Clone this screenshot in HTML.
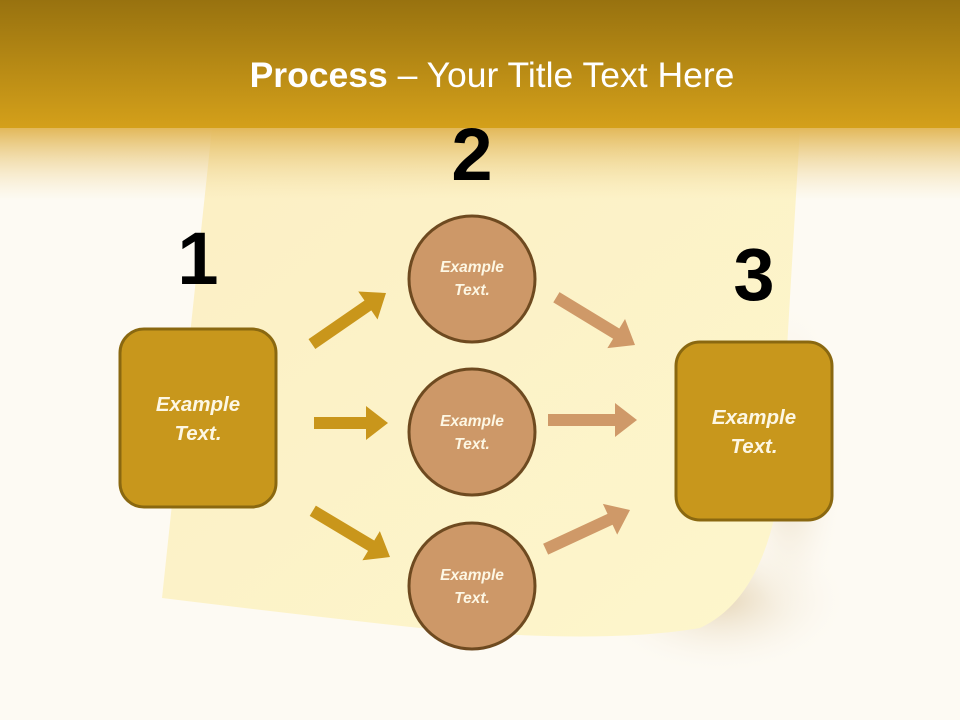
<!DOCTYPE html>
<html><head><meta charset="utf-8"><style>
html,body{margin:0;padding:0;width:960px;height:720px;overflow:hidden;background:#fdfaf3}
</style></head><body>
<svg width="960" height="720" viewBox="0 0 960 720" xmlns="http://www.w3.org/2000/svg">
<defs>
<linearGradient id="ban" x1="0" y1="0" x2="0" y2="1">
<stop offset="0" stop-color="#98720f"/><stop offset="1" stop-color="#d4a01a"/>
</linearGradient>
<linearGradient id="fade" x1="0" y1="0" x2="0" y2="1">
<stop offset="0" stop-color="#e2b85a" stop-opacity="1"/><stop offset="1" stop-color="#f3dfa8" stop-opacity="0"/>
</linearGradient>
<linearGradient id="note" x1="0" y1="0" x2="1" y2="1">
<stop offset="0" stop-color="#fcefc4"/><stop offset="1" stop-color="#fdf6cc"/>
</linearGradient>
<radialGradient id="sh" cx="0.5" cy="0.5" r="0.5">
<stop offset="0" stop-color="#e6d6b8"/><stop offset="1" stop-color="#fdfaf3" stop-opacity="0"/>
</radialGradient>
</defs>
<rect width="960" height="720" fill="#fdfaf3"/>
<ellipse cx="720" cy="600" rx="130" ry="75" fill="url(#sh)"/>
<ellipse cx="790" cy="460" rx="55" ry="160" fill="url(#sh)"/>
<path d="M212,128 L800,128 L778,500 Q760,600 700,628 Q600,645 420,628 Q300,615 162,598 Z" fill="url(#note)"/>
<rect x="0" y="0" width="960" height="128" fill="url(#ban)"/>
<rect x="0" y="128" width="960" height="72" fill="url(#fade)"/>
<text x="492" y="87" text-anchor="middle" font-family="'Liberation Sans',sans-serif" font-size="35.5" fill="#fff"><tspan font-weight="bold">Process</tspan> – Your Title Text Here</text>
<g font-family="'Liberation Sans',sans-serif" font-weight="bold" font-size="74" fill="#000" text-anchor="middle">
<text x="198" y="284">1</text><text x="472" y="180">2</text><text x="754" y="300">3</text>
</g>
<g fill="#c9961b">
<polygon transform="translate(386,293) rotate(-34.6)" points="0,0 -22,-17 -22,-6 -90,-6 -90,6 -22,6 -22,17"/>
<polygon transform="translate(388,423)" points="0,0 -22,-17 -22,-6 -74,-6 -74,6 -22,6 -22,17"/>
<polygon transform="translate(390,557) rotate(30.9)" points="0,0 -22,-17 -22,-6 -90,-6 -90,6 -22,6 -22,17"/>
</g>
<g fill="#cf9968">
<polygon transform="translate(635,345) rotate(31.3)" points="0,0 -22,-17 -22,-6 -92,-6 -92,6 -22,6 -22,17"/>
<polygon transform="translate(637,420)" points="0,0 -22,-17 -22,-6 -89,-6 -89,6 -22,6 -22,17"/>
<polygon transform="translate(630,510) rotate(-24.9)" points="0,0 -22,-17 -22,-6 -93,-6 -93,6 -22,6 -22,17"/>
</g>
<g fill="#c8971c" stroke="#8a6810" stroke-width="3">
<rect x="120" y="329" width="156" height="178" rx="24"/>
<rect x="676" y="342" width="156" height="178" rx="24"/>
</g>
<g fill="#cd9868" stroke="#6e4a20" stroke-width="3">
<circle cx="472" cy="279" r="63"/><circle cx="472" cy="432" r="63"/><circle cx="472" cy="586" r="63"/>
</g>
<g font-family="'Liberation Sans',sans-serif" font-weight="bold" font-style="italic" fill="#fdf7e4" text-anchor="middle">
<g font-size="20.5"><text x="198" y="411">Example</text><text x="198" y="440">Text.</text>
<text x="754" y="424">Example</text><text x="754" y="453">Text.</text></g>
<g font-size="15.5"><text x="472" y="272">Example</text><text x="472" y="295">Text.</text>
<text x="472" y="426">Example</text><text x="472" y="449">Text.</text>
<text x="472" y="580">Example</text><text x="472" y="603">Text.</text></g>
</g>
</svg>
</body></html>
